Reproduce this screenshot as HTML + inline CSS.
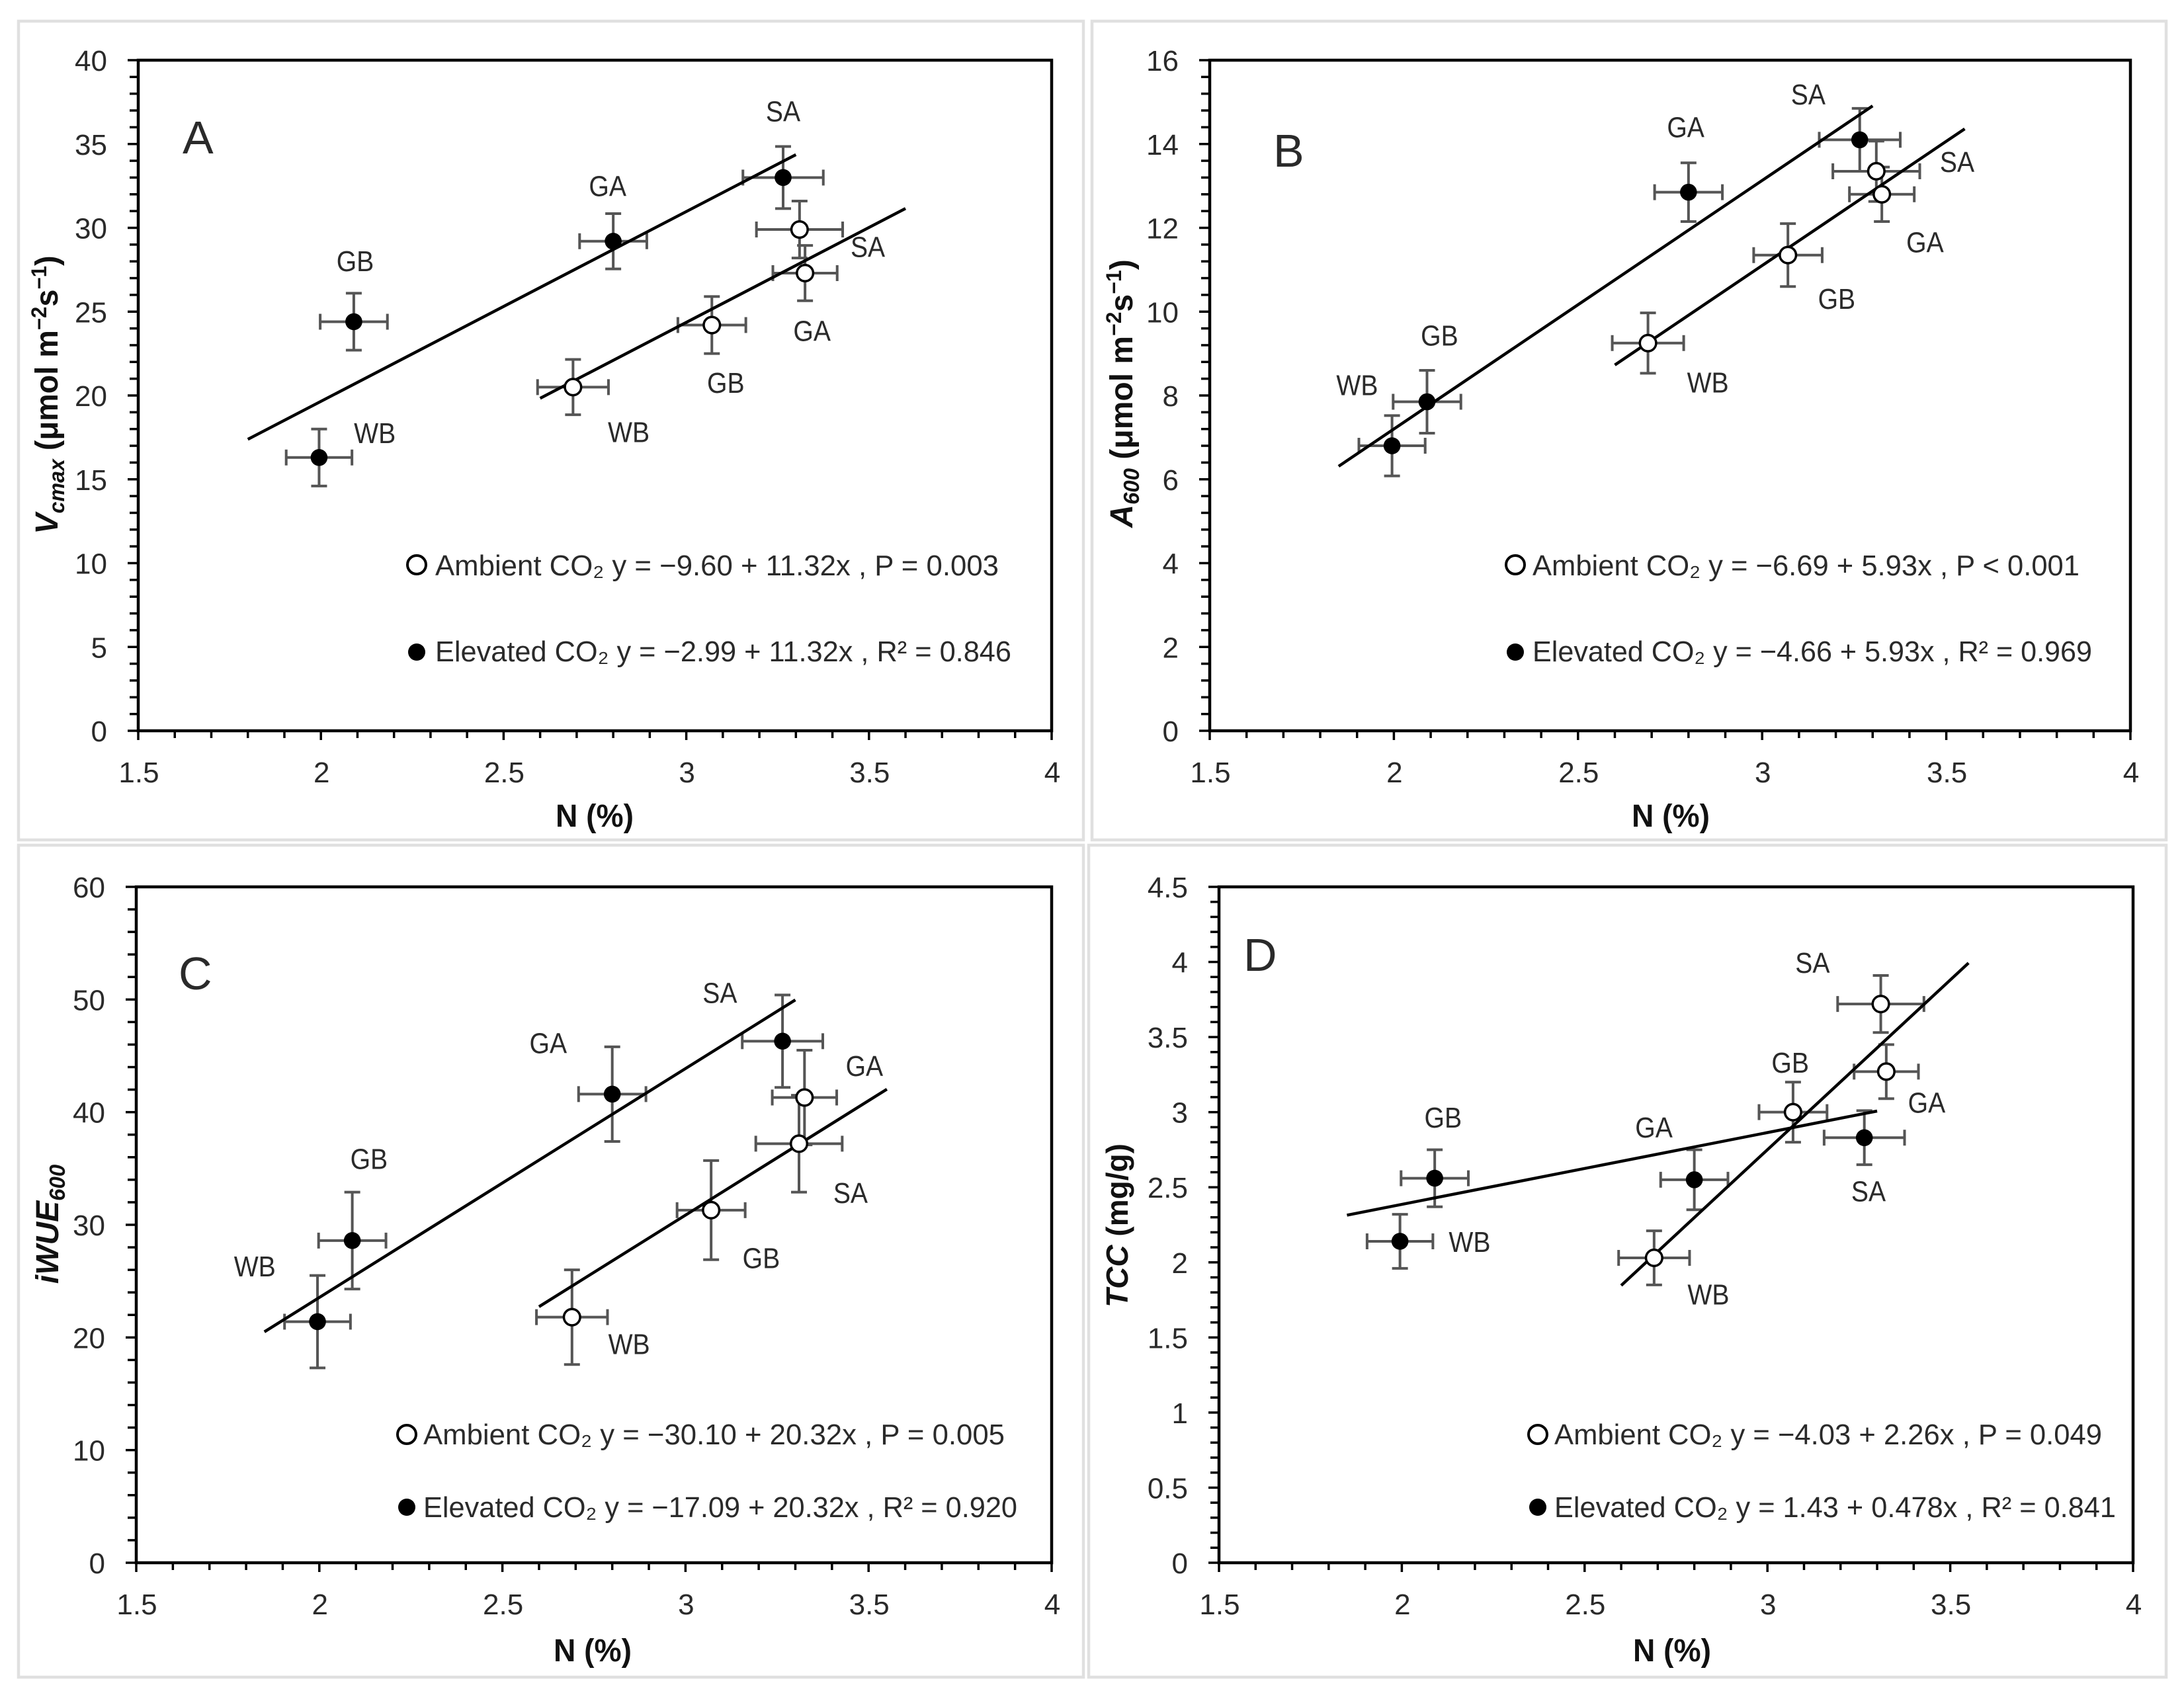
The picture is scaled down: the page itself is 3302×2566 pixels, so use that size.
<!DOCTYPE html>
<html lang="en">
<head>
<meta charset="utf-8">
<title>Leaf traits versus nitrogen under ambient and elevated CO2</title>
<style>
html,body{margin:0;padding:0;background:#fff;width:3302px;height:2566px;overflow:hidden}
svg{display:block}
text{font-family:"Liberation Sans","DejaVu Sans",sans-serif;fill:#2a2a2a}
.tick{font-size:44px}
.lab{font-size:44px}
.eq{font-size:44px}
.ax{font-size:48px;font-weight:bold;fill:#111}
.letter{font-size:70px}
</style>
</head>
<body>
<svg id="figure" xmlns="http://www.w3.org/2000/svg" width="3302" height="2566" viewBox="0 0 3302 2566">
  <rect x="0" y="0" width="3302" height="2566" fill="#fff"/>
  <rect x="28" y="32" width="1610" height="1238" fill="#fff" stroke="#e0e0e0" stroke-width="4.5"/>
  <rect x="1651" y="32" width="1624" height="1238" fill="#fff" stroke="#e0e0e0" stroke-width="4.5"/>
  <rect x="28" y="1278" width="1610" height="1258" fill="#fff" stroke="#e0e0e0" stroke-width="4.5"/>
  <rect x="1646" y="1278" width="1629" height="1258" fill="#fff" stroke="#e0e0e0" stroke-width="4.5"/>

  <text class="letter" x="276" y="232">A</text>
  <text class="letter" x="1925" y="252">B</text>
  <text class="letter" x="270" y="1496">C</text>
  <text class="letter" x="1880" y="1468">D</text>

  <text class="ax" x="899" y="1250" text-anchor="middle" textLength="118" lengthAdjust="spacingAndGlyphs">N (%)</text>
  <text class="ax" x="2526" y="1250" text-anchor="middle" textLength="118" lengthAdjust="spacingAndGlyphs">N (%)</text>
  <text class="ax" x="896" y="2512" text-anchor="middle" textLength="118" lengthAdjust="spacingAndGlyphs">N (%)</text>
  <text class="ax" x="2528" y="2512" text-anchor="middle" textLength="118" lengthAdjust="spacingAndGlyphs">N (%)</text>

  <text class="ax" transform="translate(87,597) rotate(-90) scale(0.975,1)" text-anchor="middle"><tspan font-style="italic">V</tspan><tspan font-style="italic" font-size="33" dy="10">cmax</tspan><tspan dy="-10"> (μmol m</tspan><tspan font-size="32" dy="-17">−2</tspan><tspan dy="17">s</tspan><tspan font-size="32" dy="-17">−1</tspan><tspan dy="17">)</tspan></text>
  <text class="ax" transform="translate(1712,595) rotate(-90)" text-anchor="middle"><tspan font-style="italic">A</tspan><tspan font-style="italic" font-size="33" dy="10">600</tspan><tspan dy="-10"> (μmol m</tspan><tspan font-size="32" dy="-17">−2</tspan><tspan dy="17">s</tspan><tspan font-size="32" dy="-17">−1</tspan><tspan dy="17">)</tspan></text>
  <text class="ax" transform="translate(88,1851) rotate(-90)" text-anchor="middle" font-style="italic">iWUE<tspan font-size="33" dy="10">600</tspan></text>
  <text class="ax" style="font-size:46px" transform="translate(1705,1853) rotate(-90)" text-anchor="middle"><tspan font-style="italic">TCC</tspan> (mg/g)</text>

  <text class="eq" x="658" y="870" textLength="852" lengthAdjust="spacingAndGlyphs">Ambient CO₂ y = −9.60 + 11.32x , P = 0.003</text>
  <text class="eq" x="658" y="1000" textLength="871" lengthAdjust="spacingAndGlyphs">Elevated CO₂ y = −2.99 + 11.32x , R² = 0.846</text>
  <text class="eq" x="2317" y="870" textLength="827" lengthAdjust="spacingAndGlyphs">Ambient CO₂ y = −6.69 + 5.93x , P &lt; 0.001</text>
  <text class="eq" x="2317" y="1000" textLength="846" lengthAdjust="spacingAndGlyphs">Elevated CO₂ y = −4.66 + 5.93x , R² = 0.969</text>
  <text class="eq" x="640" y="2184" textLength="879" lengthAdjust="spacingAndGlyphs">Ambient CO₂ y = −30.10 + 20.32x , P = 0.005</text>
  <text class="eq" x="640" y="2294" textLength="898" lengthAdjust="spacingAndGlyphs">Elevated CO₂ y = −17.09 + 20.32x , R² = 0.920</text>
  <text class="eq" x="2350" y="2184" textLength="828" lengthAdjust="spacingAndGlyphs">Ambient CO₂ y = −4.03 + 2.26x , P = 0.049</text>
  <text class="eq" x="2350" y="2294" textLength="849" lengthAdjust="spacingAndGlyphs">Elevated CO₂ y = 1.43 + 0.478x , R² = 0.841</text>

  <circle cx="630" cy="854" r="14" fill="#fff" stroke="#000" stroke-width="4"/>
  <circle cx="630" cy="986" r="13" fill="#000"/>
  <circle cx="2291" cy="854" r="14" fill="#fff" stroke="#000" stroke-width="4"/>
  <circle cx="2291" cy="986" r="13" fill="#000"/>
  <circle cx="615" cy="2169" r="14" fill="#fff" stroke="#000" stroke-width="4"/>
  <circle cx="615" cy="2279" r="13" fill="#000"/>
  <circle cx="2325" cy="2169" r="14" fill="#fff" stroke="#000" stroke-width="4"/>
  <circle cx="2325" cy="2279" r="13" fill="#000"/>
</svg>
<script>
const categories = ['WB', 'GB', 'GA', 'SA'];
const ambientN = [2.69, 3.07, 3.325, 3.31];
const ambientNErr = [0.097, 0.093, 0.088, 0.118];
const elevatedN = [1.995, 2.09, 2.80, 3.265];
const elevatedNErr = [0.09, 0.092, 0.092, 0.11];
const xTickValues = [1.5, 2, 2.5, 3, 3.5, 4];

const vcmaxTicks = [0, 5, 10, 15, 20, 25, 30, 35, 40];
const vcmaxAmbient = [20.5, 24.2, 27.3, 29.9];
const vcmaxAmbientErr = [1.65, 1.7, 1.65, 1.7];
const vcmaxElevated = [16.3, 24.4, 29.2, 33.0];
const vcmaxElevatedErr = [1.7, 1.7, 1.65, 1.85];
const vcmaxAmbientFit = [-9.60, 11.32];
const vcmaxElevatedFit = [-2.99, 11.32];
const vcmaxAmbientRange = [2.6, 3.6];
const vcmaxElevatedRange = [1.8, 3.3];

const a600Ticks = [0, 2, 4, 6, 8, 10, 12, 14, 16];
const a600Ambient = [9.25, 11.35, 12.8, 13.35];
const a600AmbientErr = [0.72, 0.75, 0.65, 0.72];
const a600Elevated = [6.8, 7.85, 12.85, 14.1];
const a600ElevatedErr = [0.72, 0.75, 0.7, 0.75];
const a600AmbientFit = [-6.69, 5.93];
const a600ElevatedFit = [-4.66, 5.93];
const a600AmbientRange = [2.6, 3.55];
const a600ElevatedRange = [1.85, 3.3];

const iwueTicks = [0, 10, 20, 30, 40, 50, 60];
const iwueAmbient = [21.8, 31.3, 41.3, 37.2];
const iwueAmbientErr = [4.2, 4.4, 4.2, 4.3];
const iwueElevated = [21.4, 28.6, 41.6, 46.3];
const iwueElevatedErr = [4.1, 4.3, 4.2, 4.1];
const iwueAmbientFit = [-30.10, 20.32];
const iwueElevatedFit = [-17.09, 20.32];
const iwueAmbientRange = [2.6, 3.55];
const iwueElevatedRange = [1.85, 3.3];

const tccTicks = [0, 0.5, 1, 1.5, 2, 2.5, 3, 3.5, 4, 4.5];
const tccAmbient = [2.03, 3.0, 3.27, 3.72];
const tccAmbientErr = [0.18, 0.2, 0.18, 0.19];
const tccElevated = [2.14, 2.56, 2.55, 2.83];
const tccElevatedErr = [0.18, 0.19, 0.2, 0.18];
const tccAmbientFit = [-4.03, 2.26];
const tccElevatedFit = [1.43, 0.478];
const tccAmbientRange = [2.6, 3.55];
const tccElevatedRange = [1.85, 3.3];

const NS = 'http://www.w3.org/2000/svg';
const fig = document.getElementById('figure');
const OV = 2.106;

function make(tag, attrs, parent) {
  const el = document.createElementNS(NS, tag);
  for (const k in attrs) el.setAttribute(k, attrs[k]);
  (parent || fig).appendChild(el);
  return el;
}

function createPanel(id, left, right, top, bottom, yTicks, ambientY, ambientYErr, elevatedY, elevatedYErr, ambientFit, elevatedFit, ambientRange, elevatedRange) {
  const xMin = xTickValues[0], xMax = xTickValues[xTickValues.length - 1];
  const yMin = yTicks[0], yMax = yTicks[yTicks.length - 1];
  const sx = v => left + (v - xMin) / (xMax - xMin) * (right - left);
  const sy = v => bottom - (v - yMin) / (yMax - yMin) * (bottom - top);
  const g = make('g', {});
  
  
  const p = {id, sx, sy, g,
    ambient: {x: ambientN, y: ambientY},
    elevated: {x: elevatedN, y: elevatedY}};

  // x-axis ticks
  for (let i = 0; i < xTickValues.length; i++) {
    const v = xTickValues[i];
    const t = make('line', {x1: sx(v), x2: sx(v), y1: bottom, y2: bottom + 14, stroke: '#000', 'stroke-width': 3.5}, g);
    
    
    const lb = make('text', {x: sx(v) + 1, y: bottom + 78, 'text-anchor': 'middle', class: 'tick'}, g);
    
    
    lb.textContent = String(v);
    if (i < xTickValues.length - 1) {
      for (let m = 1; m < 5; m++) {
        const mv = v + (xTickValues[i + 1] - v) * m / 5;
        const mt = make('line', {x1: sx(mv), x2: sx(mv), y1: bottom, y2: bottom + 11, stroke: '#000', 'stroke-width': 3.5}, g);
        
        
      }
    }
  }
  // y-axis ticks
  for (let i = 0; i < yTicks.length; i++) {
    const v = yTicks[i];
    const t = make('line', {x1: left - 16, x2: left, y1: sy(v), y2: sy(v), stroke: '#000', 'stroke-width': 3.5}, g);
    
    
    const lb = make('text', {x: left - 47, y: sy(v) + 16, 'text-anchor': 'end', class: 'tick'}, g);
    
    
    lb.textContent = String(v);
    if (i < yTicks.length - 1) {
      for (let m = 1; m < 5; m++) {
        const mv = v + (yTicks[i + 1] - v) * m / 5;
        const mt = make('line', {x1: left - 13, x2: left, y1: sy(mv), y2: sy(mv), stroke: '#000', 'stroke-width': 3.5}, g);
        
        
      }
    }
  }
  // plot border
  const border = make('rect', {x: left, y: top, width: right - left, height: bottom - top, fill: 'none', stroke: '#000', 'stroke-width': 4.5}, g);
  
  

  // error bars
  function errorBars(series, xs, xe, ys, ye) {
    for (let i = 0; i < categories.length; i++) {
      const cx = sx(xs[i]), cy = sy(ys[i]);
      const xa = sx(xs[i] - xe[i]), xb = sx(xs[i] + xe[i]);
      const ya = sy(ys[i] - ye[i]), yb = sy(ys[i] + ye[i]);
      const d = 'M' + xa + ' ' + cy + 'H' + xb +
        'M' + xa + ' ' + (cy - 12) + 'V' + (cy + 12) +
        'M' + xb + ' ' + (cy - 12) + 'V' + (cy + 12) +
        'M' + cx + ' ' + ya + 'V' + yb +
        'M' + (cx - 12) + ' ' + ya + 'H' + (cx + 12) +
        'M' + (cx - 12) + ' ' + yb + 'H' + (cx + 12);
      const bar = make('path', {d: d, fill: 'none', stroke: '#555', 'stroke-width': 4}, g);
      
      
    }
  }
  errorBars('ambient', ambientN, ambientNErr, ambientY, ambientYErr);
  errorBars('elevated', elevatedN, elevatedNErr, elevatedY, elevatedYErr);

  // trend lines
  function trend(series, fit, range) {
    const ln = make('line', {
      x1: sx(range[0]), y1: sy(fit[0] + fit[1] * range[0]),
      x2: sx(range[1]), y2: sy(fit[0] + fit[1] * range[1]),
      stroke: '#000', 'stroke-width': 4.5}, g);
    
    
  }
  trend('ambient', ambientFit, ambientRange);
  trend('elevated', elevatedFit, elevatedRange);

  // markers
  for (let i = 0; i < categories.length; i++) {
    const a = make('circle', {cx: sx(ambientN[i]), cy: sy(ambientY[i]), r: 12.3, fill: '#fff', stroke: '#000', 'stroke-width': 3.5}, g);
    
    
    const e = make('circle', {cx: sx(elevatedN[i]), cy: sy(elevatedY[i]), r: 12.8, fill: '#000'}, g);
    
    
  }
  return p;
}

// label placed relative to its data point, offset given in overview units
function placeLabel(p, series, i, dx, dy) {
  const s = p[series];
  const t = make('text', {x: p.sx(s.x[i]) + dx * OV, y: p.sy(s.y[i]) + dy * OV + 16, 'text-anchor': 'middle', class: 'lab'}, p.g);
  
  
  t.textContent = categories[i];
  t.setAttribute('lengthAdjust', 'spacingAndGlyphs');
  t.setAttribute('textLength', (t.getComputedTextLength() * 0.89).toFixed(1));
}

const panelA = createPanel('a', 209, 1590, 91, 1105, vcmaxTicks, vcmaxAmbient, vcmaxAmbientErr, vcmaxElevated, vcmaxElevatedErr, vcmaxAmbientFit, vcmaxElevatedFit, vcmaxAmbientRange, vcmaxElevatedRange);
const panelB = createPanel('b', 1829, 3221, 91, 1105, a600Ticks, a600Ambient, a600AmbientErr, a600Elevated, a600ElevatedErr, a600AmbientFit, a600ElevatedFit, a600AmbientRange, a600ElevatedRange);
const panelC = createPanel('c', 206, 1590, 1341, 2363, iwueTicks, iwueAmbient, iwueAmbientErr, iwueElevated, iwueElevatedErr, iwueAmbientFit, iwueElevatedFit, iwueAmbientRange, iwueElevatedRange);
const panelD = createPanel('d', 1843, 3225, 1341, 2363, tccTicks, tccAmbient, tccAmbientErr, tccElevated, tccElevatedErr, tccAmbientFit, tccElevatedFit, tccAmbientRange, tccElevatedRange);

placeLabel(panelA, 'elevated', 0, 40, -18);
placeLabel(panelA, 'elevated', 1, 1, -44);
placeLabel(panelA, 'elevated', 2, -4, -40);
placeLabel(panelA, 'elevated', 3, 0, -48);
placeLabel(panelA, 'ambient', 0, 40, 32);
placeLabel(panelA, 'ambient', 1, 10, 41);
placeLabel(panelA, 'ambient', 2, 5, 41);
placeLabel(panelA, 'ambient', 3, 49, 12);

placeLabel(panelB, 'elevated', 0, -25, -44);
placeLabel(panelB, 'elevated', 1, 9, -48);
placeLabel(panelB, 'elevated', 2, -2, -47);
placeLabel(panelB, 'elevated', 3, -37, -33);
placeLabel(panelB, 'ambient', 0, 43, 28);
placeLabel(panelB, 'ambient', 1, 35, 31);
placeLabel(panelB, 'ambient', 2, 31, 34);
placeLabel(panelB, 'ambient', 3, 58, -7);

placeLabel(panelC, 'elevated', 0, -45, -40);
placeLabel(panelC, 'elevated', 1, 12, -59);
placeLabel(panelC, 'elevated', 2, -46, -37);
placeLabel(panelC, 'elevated', 3, -45, -35);
placeLabel(panelC, 'ambient', 0, 41, 19);
placeLabel(panelC, 'ambient', 1, 36, 34);
placeLabel(panelC, 'ambient', 2, 43, -23);
placeLabel(panelC, 'ambient', 3, 37, 35);

placeLabel(panelD, 'elevated', 0, 50, 0);
placeLabel(panelD, 'elevated', 1, 6, -44);
placeLabel(panelD, 'elevated', 2, -29, -38);
placeLabel(panelD, 'elevated', 3, 3, 38);
placeLabel(panelD, 'ambient', 0, 39, 26);
placeLabel(panelD, 'ambient', 1, -2, -36);
placeLabel(panelD, 'ambient', 2, 29, 22);
placeLabel(panelD, 'ambient', 3, -49, -30);
</script>
</body>
</html>
